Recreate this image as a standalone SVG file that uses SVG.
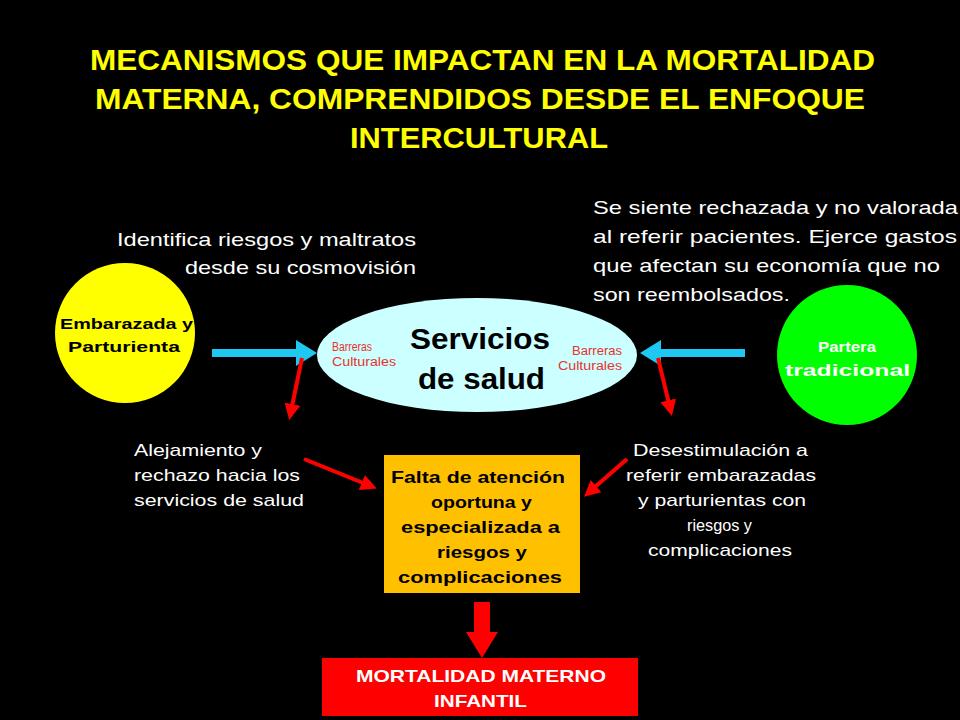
<svg xmlns="http://www.w3.org/2000/svg" width="960" height="720" viewBox="0 0 960 720">
<style>
text{font-family:"Liberation Sans",Arial,sans-serif}
.t{fill:#fff;font-size:19px}
.s{fill:#fff;font-size:17px}
.b{font-weight:bold}
.r{fill:#e8322a;font-size:12px}
</style>
<defs>
<marker id="rh" markerWidth="4" markerHeight="4" refX="3" refY="2" orient="auto"><path d="M0,0L4,2L0,4Z" fill="#f00"/></marker>
</defs>
<rect width="960" height="720" fill="#000"/>
<g id="title" class="b" font-size="29" fill="#ffff00" lengthAdjust="spacingAndGlyphs">
<text x="90" y="70" textLength="785" lengthAdjust="spacingAndGlyphs">MECANISMOS QUE IMPACTAN EN LA MORTALIDAD</text>
<text x="95" y="109" textLength="770" lengthAdjust="spacingAndGlyphs">MATERNA, COMPRENDIDOS DESDE EL ENFOQUE</text>
<text x="350" y="148" textLength="258" lengthAdjust="spacingAndGlyphs">INTERCULTURAL</text>
</g>
<g id="note1">
<text x="117" y="246" class="t" textLength="299" lengthAdjust="spacingAndGlyphs">Identifica riesgos y maltratos</text>
<text x="185" y="274" class="t" textLength="231" lengthAdjust="spacingAndGlyphs">desde su cosmovisión</text>
</g>
<g id="note2">
<text x="593" y="214" class="t" textLength="365" lengthAdjust="spacingAndGlyphs">Se siente rechazada y no valorada</text>
<text x="593" y="243" class="t" textLength="364" lengthAdjust="spacingAndGlyphs">al referir pacientes. Ejerce gastos</text>
<text x="593" y="272" class="t" textLength="347" lengthAdjust="spacingAndGlyphs">que afectan su economía que no</text>
<text x="593" y="301" class="t" textLength="197" lengthAdjust="spacingAndGlyphs">son reembolsados.</text>
</g>
<g id="embarazada">
<circle cx="125" cy="333" r="70" fill="#ffff00"/>
<text x="60" y="329" font-size="15" class="b" textLength="133" lengthAdjust="spacingAndGlyphs">Embarazada y</text>
<text x="68" y="352" font-size="15" class="b" textLength="112" lengthAdjust="spacingAndGlyphs">Parturienta</text>
</g>
<g id="partera">
<circle cx="847" cy="355" r="70" fill="#00ff00"/>
<text x="818" y="352" font-size="15" class="b" fill="#fff" textLength="58" lengthAdjust="spacingAndGlyphs">Partera</text>
<text x="785" y="376" font-size="16" class="b" fill="#fff" textLength="125" lengthAdjust="spacingAndGlyphs">tradicional</text>
</g>
<g id="servicios">
<ellipse cx="477" cy="355" rx="160" ry="57" fill="#ccffff"/>
<text x="410" y="349" font-size="30" class="b" textLength="140" lengthAdjust="spacingAndGlyphs">Servicios</text>
<text x="418" y="389" font-size="30" class="b" textLength="127" lengthAdjust="spacingAndGlyphs">de salud</text>
<text x="332" y="351" class="r" textLength="40" lengthAdjust="spacingAndGlyphs">Barreras</text>
<text x="332" y="366" class="r" textLength="64" lengthAdjust="spacingAndGlyphs">Culturales</text>
<text x="572" y="355" class="r" textLength="50" lengthAdjust="spacingAndGlyphs">Barreras</text>
<text x="558" y="370" class="r" textLength="64" lengthAdjust="spacingAndGlyphs">Culturales</text>
</g>
<g id="alejamiento">
<text x="134" y="456" class="s" textLength="128" lengthAdjust="spacingAndGlyphs">Alejamiento y</text>
<text x="134" y="481" class="s" textLength="166" lengthAdjust="spacingAndGlyphs">rechazo hacia los</text>
<text x="134" y="506" class="s" textLength="170" lengthAdjust="spacingAndGlyphs">servicios de salud</text>
</g>
<g id="desestimulacion">
<text x="633" y="456" class="s" textLength="175" lengthAdjust="spacingAndGlyphs">Desestimulación a</text>
<text x="626" y="481" class="s" textLength="190" lengthAdjust="spacingAndGlyphs">referir embarazadas</text>
<text x="638" y="506" class="s" textLength="168" lengthAdjust="spacingAndGlyphs">y parturientas con</text>
<text x="687" y="531" class="s" textLength="65" lengthAdjust="spacingAndGlyphs">riesgos y</text>
<text x="648" y="556" class="s" textLength="144" lengthAdjust="spacingAndGlyphs">complicaciones</text>
</g>
<g id="falta">
<rect x="384" y="455" width="196" height="138" fill="#ffc000"/>
<g font-size="17" class="b">
<text x="391" y="483" textLength="174" lengthAdjust="spacingAndGlyphs">Falta de atención</text>
<text x="431" y="508" textLength="101" lengthAdjust="spacingAndGlyphs">oportuna y</text>
<text x="401" y="533" textLength="159" lengthAdjust="spacingAndGlyphs">especializada a</text>
<text x="437" y="558" textLength="90" lengthAdjust="spacingAndGlyphs">riesgos y</text>
<text x="398" y="583" textLength="164" lengthAdjust="spacingAndGlyphs">complicaciones</text>
</g>
</g>
<g id="mortalidad">
<rect x="322" y="658" width="316" height="58" fill="#f00"/>
<text x="356" y="682" font-size="17" class="b" fill="#fff" textLength="250" lengthAdjust="spacingAndGlyphs">MORTALIDAD MATERNO</text>
<text x="434" y="707" font-size="17" class="b" fill="#fff" textLength="93" lengthAdjust="spacingAndGlyphs">INFANTIL</text>
</g>
<g id="connectors">
<path d="M212,349H296V340L317,353L296,366V357H212Z" fill="#1ec8f0"/>
<path d="M745,349H661V340L640,353L661,366V357H745Z" fill="#1ec8f0"/>
<g stroke="#f00" stroke-width="4" marker-end="url(#rh)">
<line x1="302" y1="358" x2="290" y2="416"/>
<line x1="658" y1="358" x2="671" y2="412"/>
<line x1="304" y1="459" x2="373" y2="487"/>
<line x1="627" y1="459" x2="587" y2="494"/>
</g>
<path d="M474,602H490V632H498L482,658L466,632H474Z" fill="#f00"/>
</g>
</svg>
